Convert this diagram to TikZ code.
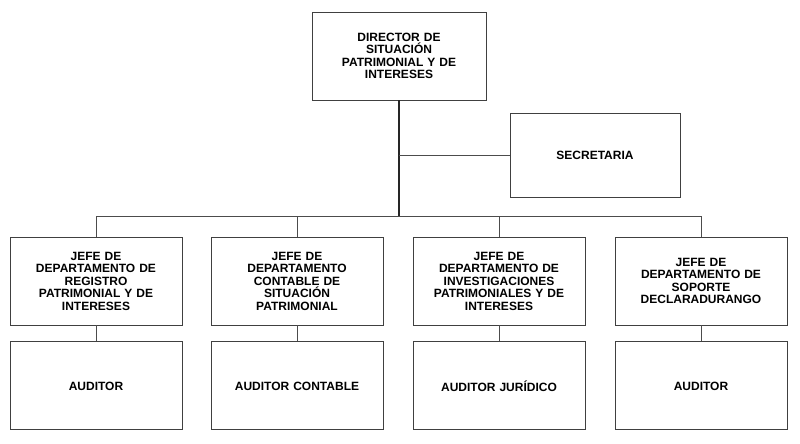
\documentclass[tikz,border=0pt]{standalone}
\usepackage{fontspec}
\setmainfont{Liberation Sans}
\usetikzlibrary{positioning}
\tikzset{
  box/.style={draw=black!75, line width=0.9pt, minimum width=172pt, minimum height=88pt,
    align=center, text width=160pt, inner sep=2pt,
    font=\fontsize{12}{12.5}\selectfont\bfseries},
  link/.style={draw=black!70, line width=0.9pt},
}
\begin{document}
\begin{tikzpicture}[x=1pt,y=-1pt]
  \useasboundingbox (0,0) rectangle (800,444);
  \node[box, minimum width=174pt] (director) at (399,56) {DIRECTOR DE\\SITUACIÓN\\PATRIMONIAL Y DE\\INTERESES};
  \node[box, minimum width=170pt, minimum height=84pt] (secretaria) at (595,155) {SECRETARIA};
  \node[box] (jefe-registro)       at (96,281)  {JEFE DE\\DEPARTAMENTO DE\\REGISTRO\\PATRIMONIAL Y DE\\INTERESES};
  \node[box] (jefe-contable)       at (297,281) {JEFE DE\\DEPARTAMENTO\\CONTABLE DE\\SITUACIÓN\\PATRIMONIAL};
  \node[box] (jefe-investigacion)  at (499,281) {JEFE DE\\DEPARTAMENTO DE\\INVESTIGACIONES\\PATRIMONIALES Y DE\\INTERESES};
  \node[box] (jefe-soporte)        at (701,281) {JEFE DE\\DEPARTAMENTO DE\\SOPORTE\\DECLARADURANGO};
  \node[box, below=16pt of jefe-registro]      (auditor-registro)      {AUDITOR};
  \node[box, below=16pt of jefe-contable]      (auditor-contable)      {AUDITOR CONTABLE};
  \node[box, below=16pt of jefe-investigacion] (auditor-investigacion) {AUDITOR JURÍDICO};
  \node[box, below=16pt of jefe-soporte]       (auditor-soporte)       {AUDITOR};
  \coordinate (bus) at (399,216);
  \coordinate (bus-left) at (96,216);
  \coordinate (bus-right) at (701,216);
  \draw[line width=1.6pt, black!85] (director) -- (bus);
  \path[link] (director |- secretaria) -- (secretaria);
  \path[link] (bus-left) -- (bus-right);
  \foreach \dep in {registro,contable,investigacion,soporte}{
    \path[link] (jefe-\dep |- bus) -- (jefe-\dep);
    \path[link] (jefe-\dep) -- (auditor-\dep);
  }
\end{tikzpicture}
\end{document}
